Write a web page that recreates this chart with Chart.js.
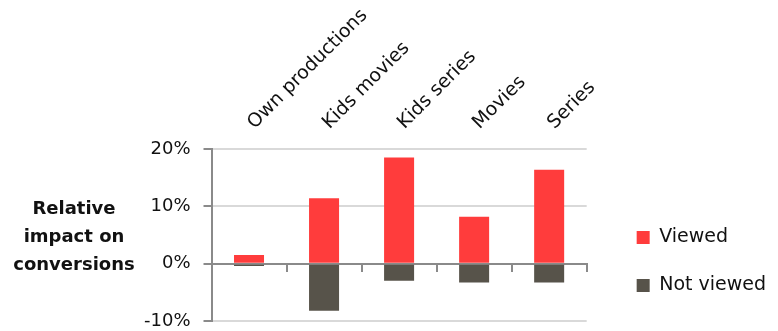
<!DOCTYPE html>
<html>
<head>
<meta charset="utf-8">
<script src="https://cdn.jsdelivr.net/npm/chart.js@4/dist/chart.umd.min.js"></script>
<style>
  html, body { margin: 0; padding: 0; background: #fff; }
  #wrap { position: relative; width: 778px; height: 331px; }
  #yTitle {
    position: absolute; left: 0; top: 194px; width: 148px;
    text-align: center; font: bold 18px "DejaVu Sans", sans-serif;
    line-height: 28px; color: #111;
  }
</style>
</head>
<body>
<div id="wrap">
  <canvas id="grafico" width="778" height="331"></canvas>
  <div id="yTitle">Relative<br>impact on<br>conversions</div>
</div>
<script>
// categorias e séries (em %)
const categorias = ['Own productions', 'Kids movies', 'Kids series', 'Movies', 'Series'];
const viewed = [1.5, 11.4, 18.5, 8.2, 16.4];
const notViewed = [-0.4, -8.2, -3.0, -3.3, -3.3];
const yTicks = [-10, 0, 10, 20];

const fonte = '"DejaVu Sans", sans-serif';

new Chart(document.getElementById('grafico').getContext('2d'), {
  type: 'bar',
  data: {
    labels: categorias,
    datasets: [
      { label: 'Viewed', data: viewed, backgroundColor: '#ff3c3c', xAxisID: 'x', yAxisID: 'y' },
      { label: 'Not viewed', data: notViewed, backgroundColor: '#57534a', xAxisID: 'x', yAxisID: 'y' }
    ]
  },
  options: {
    responsive: false,
    animation: false,
    devicePixelRatio: 1,
    categoryPercentage: 1,
    barPercentage: 0.4,
    layout: { padding: { left: 131, top: 4, right: 2, bottom: 7 } },
    scales: {
      // eixo no zero, só com os traços entre categorias
      x: {
        type: 'category',
        stacked: true,
        offset: true,
        position: { y: 0 },
        grid: { offset: true, drawOnChartArea: false, drawTicks: true, tickLength: 7, color: '#8a8a8a', lineWidth: 2 },
        border: { display: true, color: '#8a8a8a', width: 2 },
        ticks: { display: false }
      },
      // rótulos das categorias em cima, inclinados
      x2: {
        type: 'category',
        position: 'top',
        offset: true,
        grid: { display: false, drawTicks: false },
        border: { display: false },
        ticks: {
          minRotation: 45, maxRotation: 45, padding: 15, labelOffset: 18,
          color: '#111', font: { family: fonte, size: 19 }
        },
        afterFit: axis => { axis.height = 145; }
      },
      y: {
        stacked: true,
        min: -10, max: 20,
        afterBuildTicks: axis => { axis.ticks = yTicks.map(v => ({ value: v })); },
        afterFit: axis => { axis.paddingTop = 10; axis.paddingBottom = 10; },
        grid: { color: '#d9d9d9', lineWidth: 2, tickColor: '#8a8a8a', tickLength: 8 },
        border: { color: '#8a8a8a', width: 2 },
        ticks: {
          padding: 13, color: '#111', font: { family: fonte, size: 18 },
          callback: v => v + '%'
        }
      },
      // espaço vazio entre o gráfico e a legenda
      espaco: {
        type: 'linear',
        position: 'right',
        display: true,
        grid: { display: false, drawTicks: false },
        border: { display: false },
        ticks: { display: false },
        afterFit: axis => { axis.width = 21; }
      }
    },
    plugins: {
      legend: {
        position: 'right',
        align: 'end',
        maxWidth: 220,
        labels: {
          boxWidth: 13, boxHeight: 13, padding: 29,
          color: '#111', font: { family: fonte, size: 19 }
        }
      },
      tooltip: { enabled: false }
    }
  }
});
</script>
</body>
</html>
